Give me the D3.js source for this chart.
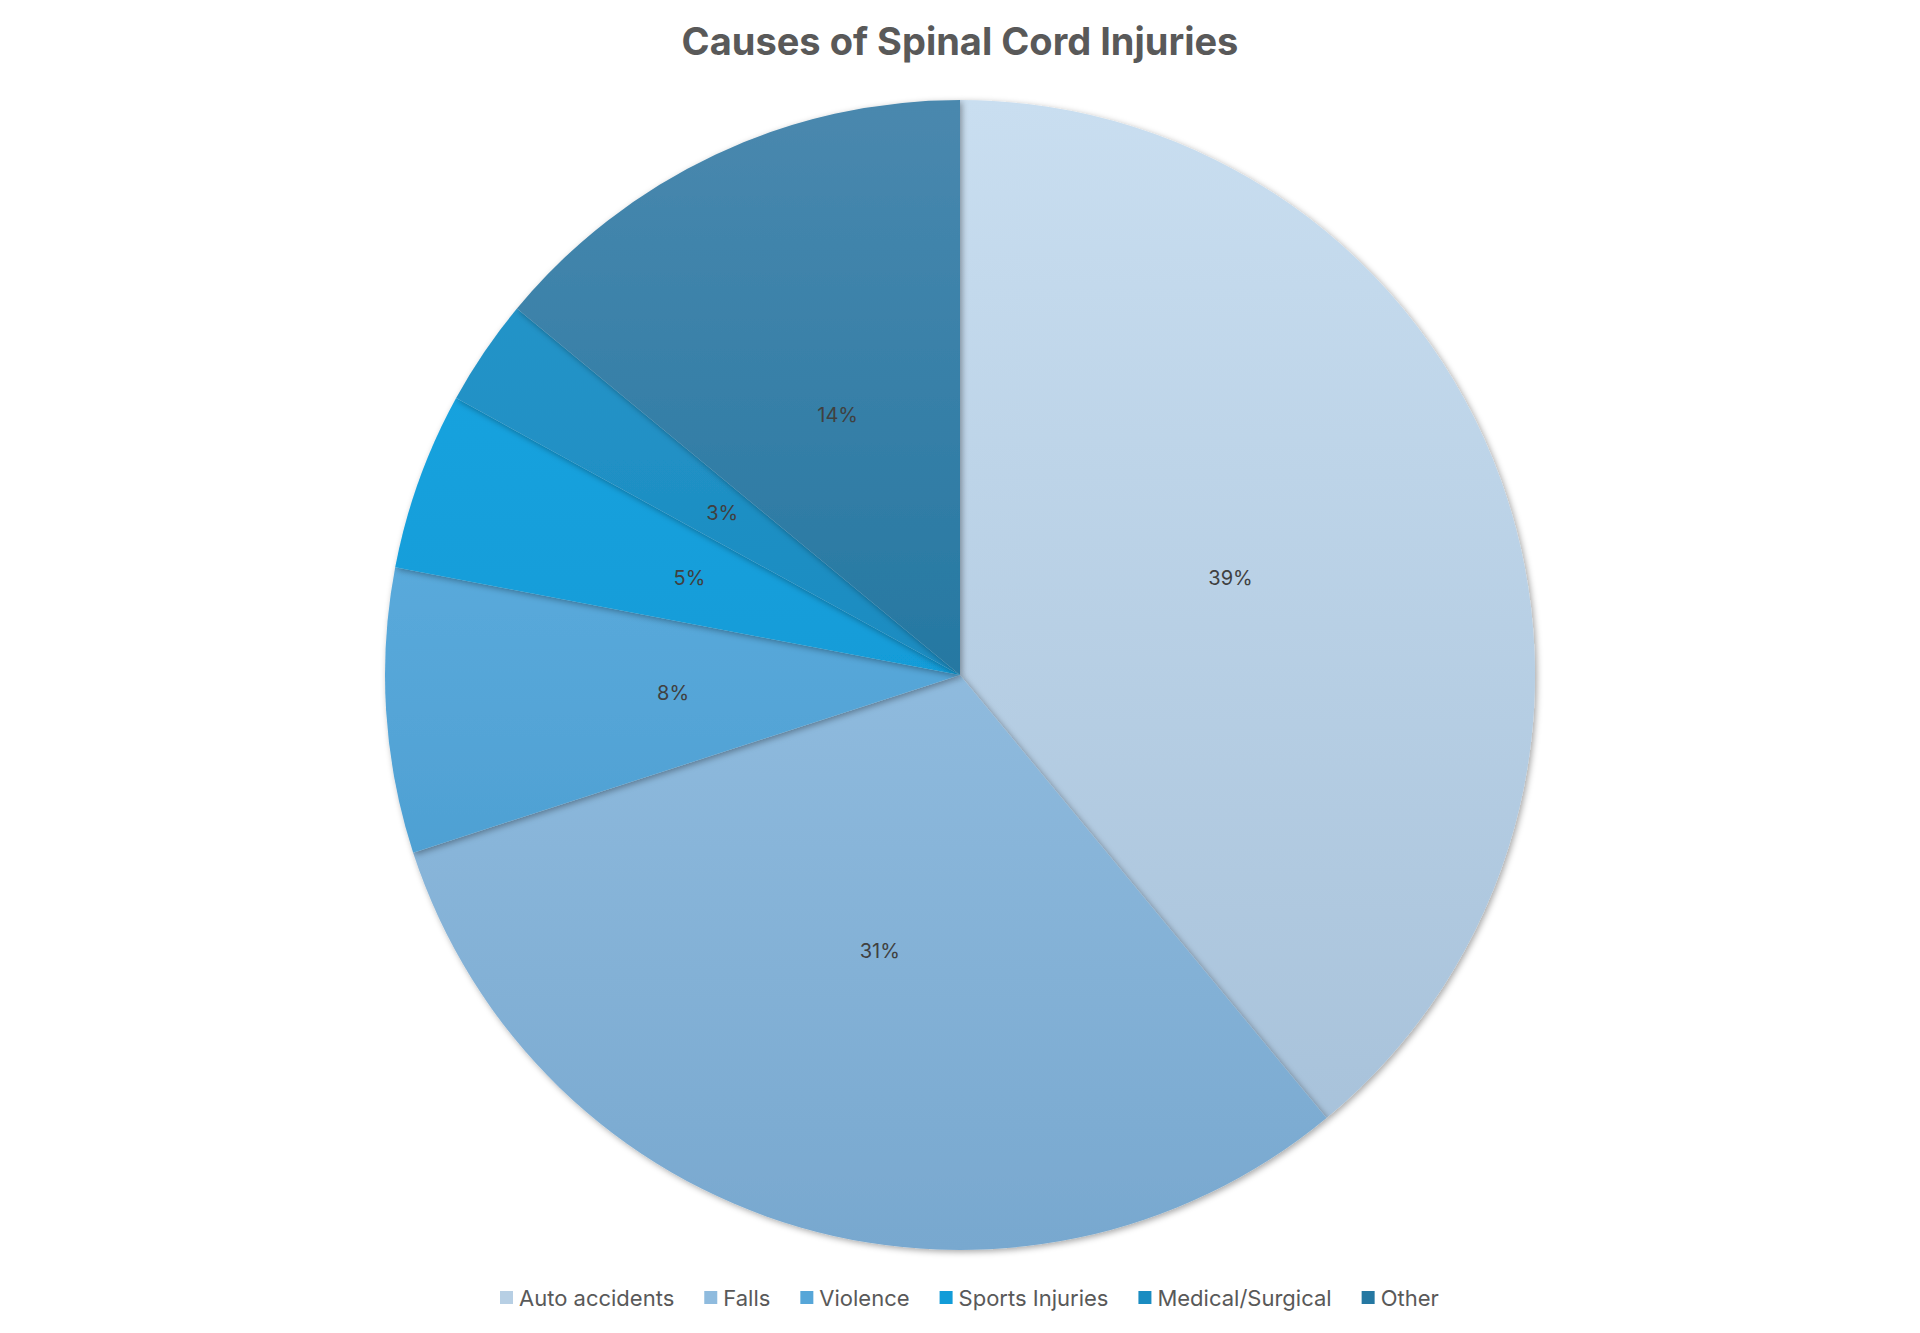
<!DOCTYPE html>
<html><head><meta charset="utf-8">
<script src="https://cdn.jsdelivr.net/npm/d3@7"></script>
<style>body{margin:0;background:#fff}</style>
</head><body>
<script>
var categories = ['Auto accidents', 'Falls', 'Violence', 'Sports Injuries', 'Medical/Surgical', 'Other'];
var values = [39, 31, 8, 5, 3, 14];
var topColors = ['#c9def0', '#a6cdec', '#6cb8e8', '#1ea8e4', '#2a98cc', '#4a88ae'];
var bottomColors = ['#a4bfd8', '#78a8cf', '#3f94c8', '#0590cc', '#0a7fb5', '#006896'];

var width = 1920, height = 1333;
var cx = 960, cy = 675, r = 575;

var svg = d3.select('body').append('svg')
  .attr('width', width).attr('height', height);

var defs = svg.append('defs');
var shadow = defs.append('filter').attr('id', 'sh')
  .attr('x', '-10%').attr('y', '-10%').attr('width', '120%').attr('height', '120%');
shadow.append('feDropShadow').attr('dx', 2).attr('dy', 2).attr('stdDeviation', 3)
  .attr('flood-color', '#000').attr('flood-opacity', 0.35);

categories.forEach(function(c, i) {
  var g = defs.append('linearGradient').attr('id', 'g' + i)
    .attr('gradientUnits', 'userSpaceOnUse')
    .attr('x1', 0).attr('y1', -r).attr('x2', 0).attr('y2', r);
  g.append('stop').attr('offset', '0%').attr('stop-color', topColors[i]);
  g.append('stop').attr('offset', '100%').attr('stop-color', bottomColors[i]);
});

svg.append('text')
  .attr('x', width / 2).attr('y', 55)
  .attr('text-anchor', 'middle')
  .style('font-family', 'Inter, "Open Sans", sans-serif')
  .style('font-weight', 'bold').style('font-size', '38px')
  .style('fill', '#595959')
  .text('Causes of Spinal Cord Injuries');

var pie = d3.pie().sort(null).value(function(d) { return d; });
var arc = d3.arc().innerRadius(0).outerRadius(r);
var labelArc = d3.arc().innerRadius(r * 0.5).outerRadius(r * 0.5);
var arcs = pie(values);

var chart = svg.append('g').attr('transform', 'translate(' + cx + ',' + cy + ')');
chart.selectAll('path')
  .data(arcs).enter().append('path')
  .attr('d', arc)
  .attr('fill', function(d, i) { return 'url(#g' + i + ')'; })
  .attr('filter', 'url(#sh)');

var total = d3.sum(values);
chart.selectAll('text.lbl')
  .data(arcs).enter().append('text')
  .attr('class', 'lbl')
  .attr('transform', function(d) { return 'translate(' + labelArc.centroid(d) + ')'; })
  .attr('text-anchor', 'middle').attr('dy', '0.35em')
  .style('font-family', 'Inter, "Open Sans", sans-serif')
  .style('font-size', '20px').style('fill', '#404040')
  .text(function(d) { return Math.round(d.value / total * 100) + '%'; });

var legend = svg.append('g').attr('transform', 'translate(0,1298)');
var x = 500;
categories.forEach(function(c, i) {
  var it = legend.append('g').attr('transform', 'translate(' + x + ',0)');
  it.append('rect').attr('x', 0).attr('y', -7).attr('width', 13).attr('height', 13)
    .attr('fill', d3.interpolateRgb(topColors[i], bottomColors[i])(0.5));
  var t = it.append('text').attr('x', 19).attr('dy', '0.35em')
    .style('font-family', 'Inter, "Open Sans", sans-serif')
    .style('font-size', '22px').style('fill', '#595959').text(c);
  x += 19 + t.node().getComputedTextLength() + 30;
});
</script>
</body></html>
